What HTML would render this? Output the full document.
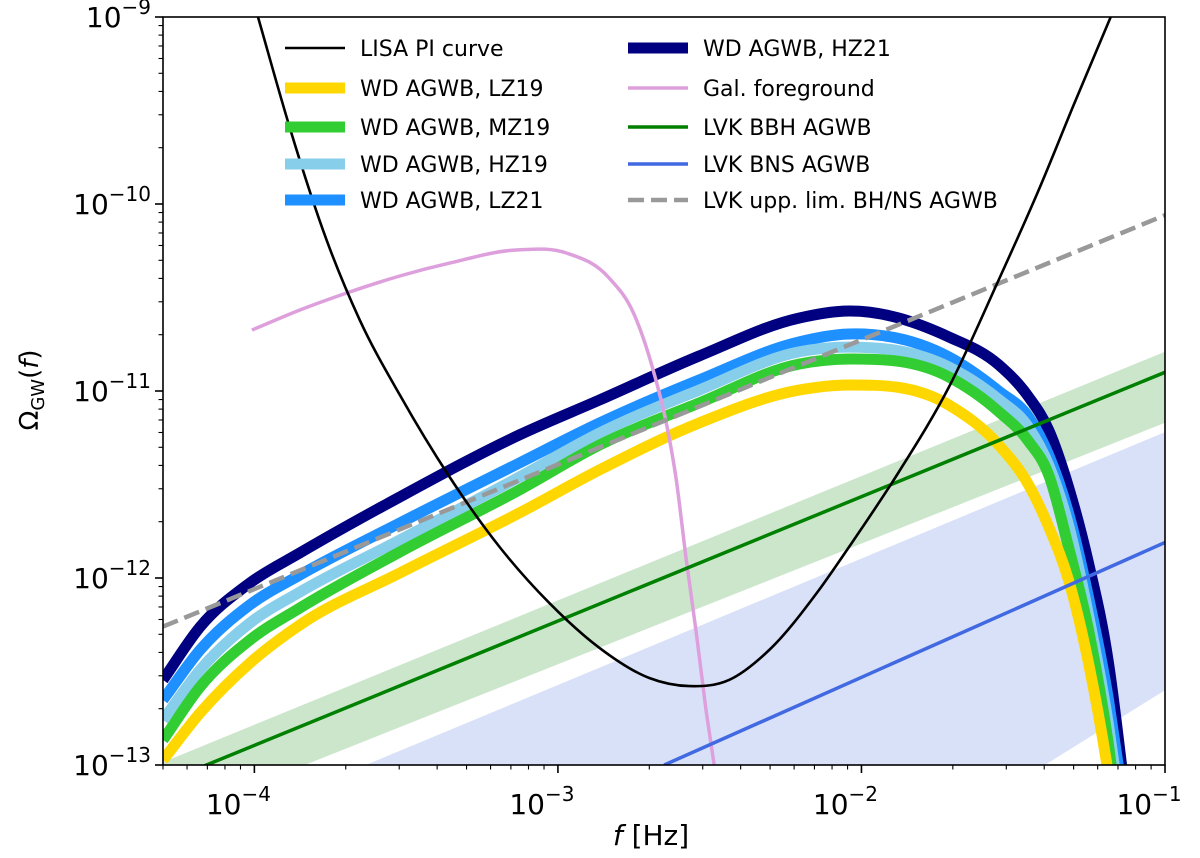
<!DOCTYPE html>
<html><head><meta charset="utf-8"><style>
html,body{margin:0;padding:0;background:#fff;overflow:hidden;}
svg text{font-family:"DejaVu Sans","Liberation Sans",sans-serif;}
</style></head><body>
<svg id="chart" width="1200" height="858" viewBox="0 0 1200 858" xmlns="http://www.w3.org/2000/svg" style="display:block">
<defs><clipPath id="clip"><rect x="163" y="17" width="1002" height="748"/></clipPath></defs>
<g id="plot" clip-path="url(#clip)"></g>
<g id="axes"></g>
<g id="legend"></g>
</svg>
<script>
// ---- data (log10 values) ----
const xTicks = [-4, -3, -2, -1];
const yTicks = [-13, -12, -11, -10, -9];
const lisaLogF = [-3.988,-3.883,-3.762,-3.653,-3.521,-3.357,-3.192,-3.028,-2.863,-2.699,-2.567,-2.436,-2.304,-2.140,-2.041,-1.877,-1.712,-1.548,-1.416,-1.301,-1.179];
const lisaLogO = [-9.0,-9.594,-10.193,-10.620,-11.021,-11.460,-11.834,-12.134,-12.374,-12.535,-12.578,-12.545,-12.385,-12.064,-11.834,-11.433,-10.979,-10.406,-9.925,-9.471,-9.0];
const galLogF = [-4.008,-3.850,-3.696,-3.521,-3.357,-3.137,-2.972,-2.831,-2.748,-2.689,-2.643,-2.610,-2.577,-2.544,-2.512,-2.485];
const galLogO = [-10.674,-10.567,-10.476,-10.385,-10.316,-10.246,-10.262,-10.396,-10.594,-10.872,-11.171,-11.476,-11.904,-12.294,-12.706,-13.0];
const wdLogF = [-4.301,-4.179,-4.015,-3.850,-3.521,-3.127,-2.863,-2.535,-2.206,-2.041,-1.712,-1.548,-1.449,-1.383,-1.318,-1.252,-1.186,-1.137,-1.087];
const wdHZ21 = [-12.545,-12.262,-12.027,-11.866,-11.567,-11.235,-11.048,-10.813,-10.610,-10.572,-10.711,-10.860,-11.032,-11.209,-11.513,-11.920,-12.455,-13.080,-13.722];
const wdLZ21 = [-12.652,-12.385,-12.144,-11.984,-11.706,-11.385,-11.171,-10.941,-10.738,-10.695,-10.818,-11.000,-11.140,-11.342,-11.652,-12.102,-12.652,-13.187,-13.722];
const wdHZ19 = [-12.759,-12.492,-12.241,-12.075,-11.797,-11.460,-11.225,-10.995,-10.791,-10.765,-10.872,-11.045,-11.195,-11.396,-11.717,-12.198,-12.786,-13.348,-13.882];
const wdMZ19 = [-12.866,-12.583,-12.332,-12.160,-11.861,-11.529,-11.289,-11.064,-10.856,-10.829,-10.925,-11.110,-11.270,-11.449,-11.834,-12.278,-12.893,-13.508,-14.043];
const wdLZ19 = [-12.973,-12.722,-12.455,-12.251,-11.973,-11.652,-11.422,-11.171,-10.995,-10.968,-11.075,-11.289,-11.503,-11.727,-12.011,-12.455,-13.053,-13.615,-14.150];
const bbhLogF = [-4.301,-1.0];
const bbhLogO = [-13.095,-10.90];
const bbhBandUpF = [-4.301,-1.0];
const bbhBandUpO = [-12.985,-10.79];
const bbhBandLoF = [-3.834,-1.0];
const bbhBandLoO = [-13.0,-11.17];
const bnsLogF = [-2.65,-1.0];
const bnsLogO = [-13.0,-11.81];
const bnsBandUpF = [-3.633,-1.0];
const bnsBandUpO = [-13.0,-11.22];
const bnsBandLoF = [-1.396,-1.0];
const bnsBandLoO = [-13.0,-12.60];
const uppLogF = [-4.301,-1.0];
const uppLogO = [-12.26,-10.06];

// ---- axes ----
const X0=163,X1=1165,Y0=17,Y1=765, FMIN=Math.log10(5e-5), FMAX=-1, OMAX=-9, OMIN=-13;
const sx=v=>X0+(v-FMIN)/(FMAX-FMIN)*(X1-X0);
const sy=v=>Y0+(OMAX-v)/(OMAX-OMIN)*(Y1-Y0);
const NS="http://www.w3.org/2000/svg";
const plot=document.getElementById('plot'), axes=document.getElementById('axes'), legend=document.getElementById('legend');
function mk(tag,attrs,parent){const e=document.createElementNS(NS,tag);for(const k in attrs)e.setAttribute(k,attrs[k]);parent.appendChild(e);return e;}
function smoothPath(F,O){
 let P=F.map((f,i)=>[sx(f),sy(O[i])]);
 const n=P.length, m=[];
 for(let i=0;i<n;i++){
  if(i===0) m.push((P[1][1]-P[0][1])/(P[1][0]-P[0][0]));
  else if(i===n-1) m.push((P[n-1][1]-P[n-2][1])/(P[n-1][0]-P[n-2][0]));
  else{const a=(P[i][1]-P[i-1][1])/(P[i][0]-P[i-1][0]),b=(P[i+1][1]-P[i][1])/(P[i+1][0]-P[i][0]);
   const ha=P[i][0]-P[i-1][0],hb=P[i+1][0]-P[i][0];m.push((a*hb+b*ha)/(ha+hb));}
 }
 const LIM=Y1+25;
 let d='M'+P[0][0].toFixed(1)+','+P[0][1].toFixed(1);
 for(let i=0;i<n-1;i++){
  const h=P[i+1][0]-P[i][0];
  const c1=[P[i][0]+h/3,P[i][1]+m[i]*h/3], c2=[P[i+1][0]-h/3,P[i+1][1]-m[i+1]*h/3];
  let end=P[i+1];
  if(end[1]>LIM){
   const t=(LIM-P[i][1])/(end[1]-P[i][1]);
   end=[P[i][0]+t*h,LIM];
   d+=' L'+end[0].toFixed(1)+','+end[1].toFixed(1);
   break;
  }
  d+=' C'+c1[0].toFixed(1)+','+c1[1].toFixed(1)+' '+c2[0].toFixed(1)+','+c2[1].toFixed(1)+' '+end[0].toFixed(1)+','+end[1].toFixed(1);
 }
 return d;
}
function line(F,O,color,w,name,dash){const p=mk('path',{d:smoothPath(F,O),fill:'none',stroke:color,'stroke-width':w,'stroke-linejoin':'round'},plot);if(dash)p.setAttribute('stroke-dasharray',dash);


return p;}
function band(uF,uO,lF,lO,color,name){
 const up=uF.map((f,i)=>[sx(f),sy(uO[i])]);
 const lo=lF.map((f,i)=>[sx(f),sy(lO[i])]).reverse();
 const all=[[sx(uF[0]),Y1+2]].concat(up,[[X1+2,up[up.length-1][1]]],[[X1+2,lo[0][1]]],lo,[[lo[lo.length-1][0],Y1+2]]);
 const p=mk('polygon',{points:all.map(a=>a[0].toFixed(1)+','+a[1].toFixed(1)).join(' '),fill:color,stroke:'none'},plot);
 
 
}
band(bbhBandUpF,bbhBandUpO,bbhBandLoF,bbhBandLoO,'#cce6cc','bbh-band');
band(bnsBandUpF,bnsBandUpO,bnsBandLoF,bnsBandLoO,'#d9e1f9','bns-band');
line(wdLogF,wdHZ21,'#000080',11,'wd-hz21-line');
line(wdLogF,wdLZ21,'#1e90ff',11,'wd-lz21-line');
line(wdLogF,wdHZ19,'#87ceeb',11,'wd-hz19-line');
line(wdLogF,wdMZ19,'#32cd32',11,'wd-mz19-line');
line(wdLogF,wdLZ19,'#ffd700',11,'wd-lz19-line');
line(galLogF,galLogO,'#dda0dd',3.5,'gal-foreground-line');
line(bbhLogF,bbhLogO,'#008000',3.5,'lvk-bbh-line');
line(bnsLogF,bnsLogO,'#4169e1',3.5,'lvk-bns-line');
line(uppLogF,uppLogO,'#999999',4.5,'lvk-upper-limit-line','16,7');
line(lisaLogF,lisaLogO,'#000000',2.6,'lisa-pi-curve');

const fr=mk('rect',{x:X0,y:Y0,width:X1-X0,height:Y1-Y0,fill:'none',stroke:'#000','stroke-width':1.6},axes);

for(let d=-5;d<=-1;d++){for(let m=1;m<10;m++){const v=d+Math.log10(m);if(v<FMIN-1e-6||v>FMAX+1e-6)continue;const x=sx(v),L=m===1?8:4.5;
 mk('line',{x1:x,y1:Y1,x2:x,y2:Y1+L,stroke:'#000','stroke-width':m===1?1.6:1.1},axes);}}
xTicks.forEach(t=>{const x=sx(t);const tx=mk('text',{x:x-16,y:814,'font-size':28,'text-anchor':'middle'},axes);tx.textContent='10';
 const s=mk('tspan',{dy:-13,'font-size':20},tx);s.textContent='\u2212'+(-t);
 });
for(let d=-13;d<=-9;d++){for(let m=1;m<10;m++){const v=d+Math.log10(m);if(v>OMAX+1e-6)continue;const y=sy(v),L=m===1?8:4.5;
 mk('line',{x1:X0-L,y1:y,x2:X0,y2:y,stroke:'#000','stroke-width':m===1?1.6:1.1},axes);}}
yTicks.forEach(t=>{const y=sy(t);const tx=mk('text',{x:X0-12,y:y+10,'font-size':28,'text-anchor':'end'},axes);tx.textContent='10';
 const s=mk('tspan',{dy:-13,'font-size':20},tx);s.textContent='\u2212'+(-t);
 });
const xl=mk('text',{x:651,y:845,'font-size':28,'text-anchor':'middle'},axes);
xl.innerHTML='<tspan font-style="italic">f</tspan> [Hz]';

const yl=mk('text',{x:0,y:0,'font-size':26,'text-anchor':'middle',transform:'translate(38,390) rotate(-90)'},axes);
yl.innerHTML='\u03A9<tspan font-size="18" dy="6">GW</tspan><tspan dy="-6">(</tspan><tspan font-style="italic">f</tspan>)';


const entries=[
 [285,48,'#000',2.6,'LISA PI curve',''],[285,88,'#ffd700',11,'WD AGWB, LZ19',''],[285,127,'#32cd32',11,'WD AGWB, MZ19',''],
 [285,164,'#87ceeb',11,'WD AGWB, HZ19',''],[285,200,'#1e90ff',11,'WD AGWB, LZ21',''],
 [628,48,'#000080',11,'WD AGWB, HZ21',''],[628,88,'#dda0dd',3.5,'Gal. foreground',''],[628,127,'#008000',3.5,'LVK BBH AGWB',''],
 [628,164,'#4169e1',3.5,'LVK BNS AGWB',''],[628,200,'#999999',4.5,'LVK upp. lim. BH/NS AGWB','16,7']];
entries.forEach(e=>{const g=mk('g',{},legend);
 
 
 const l=mk('line',{x1:e[0],y1:e[1],x2:e[0]+60,y2:e[1],stroke:e[2],'stroke-width':e[3]},g);if(e[5])l.setAttribute('stroke-dasharray',e[5]);
 const t=mk('text',{x:e[0]+75,y:e[1]+8,'font-size':22},g);t.textContent=e[4];});
</script>
</body></html>
